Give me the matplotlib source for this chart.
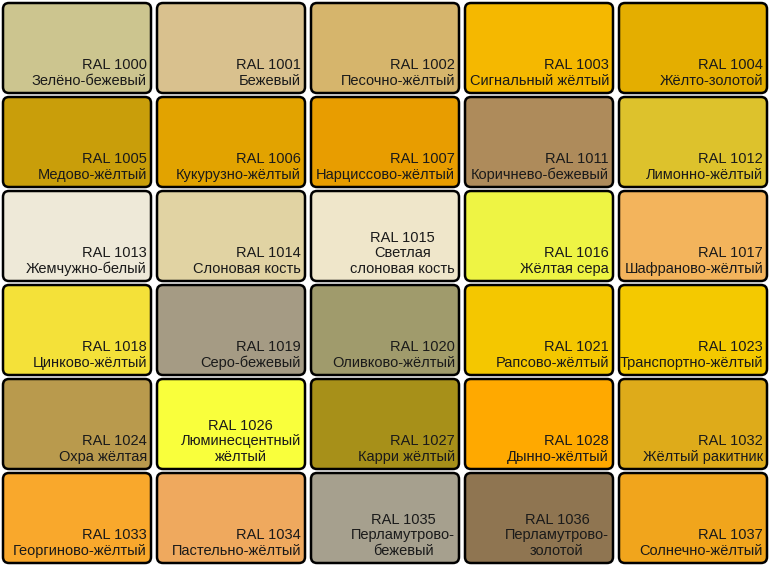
import matplotlib.pyplot as plt
from matplotlib.patches import FancyBboxPatch

plt.rcParams['font.family'] = ['Liberation Sans', 'DejaVu Sans']

codes = [
    ["RAL 1000", "RAL 1001", "RAL 1002", "RAL 1003", "RAL 1004"],
    ["RAL 1005", "RAL 1006", "RAL 1007", "RAL 1011", "RAL 1012"],
    ["RAL 1013", "RAL 1014", "RAL 1015", "RAL 1016", "RAL 1017"],
    ["RAL 1018", "RAL 1019", "RAL 1020", "RAL 1021", "RAL 1023"],
    ["RAL 1024", "RAL 1026", "RAL 1027", "RAL 1028", "RAL 1032"],
    ["RAL 1033", "RAL 1034", "RAL 1035", "RAL 1036", "RAL 1037"],
]
names = [
    ["Зелёно-бежевый", "Бежевый", "Песочно-жёлтый", "Сигнальный жёлтый", "Жёлто-золотой"],
    ["Медово-жёлтый", "Кукурузно-жёлтый", "Нарциссово-жёлтый", "Коричнево-бежевый", "Лимонно-жёлтый"],
    ["Жемчужно-белый", "Слоновая кость", "Светлая\nслоновая кость", "Жёлтая сера", "Шафраново-жёлтый"],
    ["Цинково-жёлтый", "Серо-бежевый", "Оливково-жёлтый", "Рапсово-жёлтый", "Транспортно-жёлтый"],
    ["Охра жёлтая", "Люминесцентный\nжёлтый", "Карри жёлтый", "Дынно-жёлтый", "Жёлтый ракитник"],
    ["Георгиново-жёлтый", "Пастельно-жёлтый", "Перламутрово-\nбежевый", "Перламутрово-\nзолотой", "Солнечно-жёлтый"],
]
colors = [
    ["#CCC58F", "#D9C18E", "#D6B56C", "#F5B800", "#E4AE00"],
    ["#C99E0A", "#E2A300", "#E89D00", "#AE8B5B", "#DDC22C"],
    ["#EEE9D8", "#E1D3A3", "#EFE6CA", "#EEF444", "#F3B45C"],
    ["#F4E139", "#A59B84", "#A09B6C", "#F4C700", "#F4C900"],
    ["#B99A4D", "#F9FF3C", "#A79019", "#FFA900", "#DEAB1A"],
    ["#F9A82C", "#EFA95E", "#A6A08E", "#8F7551", "#F1A51C"],
]

fig = plt.figure(figsize=(7.7, 5.7), dpi=100)
ax = fig.add_axes([0, 0, 1, 1])
ax.set_xlim(0, 770)
ax.set_ylim(570, 0)
ax.axis("off")

w, h, step_x, step_y = 148, 90, 154, 94
for r in range(6):
    for c in range(5):
        x0 = 3 + c * step_x
        y0 = 3 + r * step_y
        ax.add_patch(FancyBboxPatch((x0, y0), w, h,
                                    boxstyle="round,pad=0,rounding_size=6",
                                    fc=colors[r][c], ec="black", lw=1.8))
        nm = names[r][c]
        align = "center" if "\n" in nm else "right"
        ax.text(x0 + w - 4, y0 + h - 5, codes[r][c] + "\n" + nm,
                ha="right", va="bottom", multialignment=align,
                fontsize=10.5, color="#1a1a1a", linespacing=1.15)

fig.savefig("out.png", dpi=100)
